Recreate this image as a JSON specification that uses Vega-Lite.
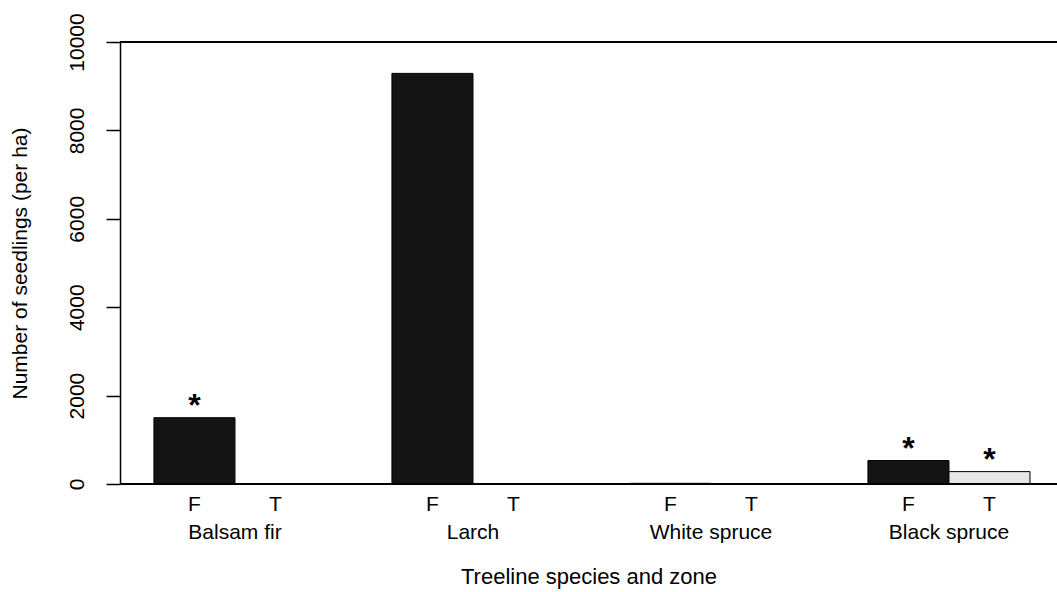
{
  "$schema": "https://vega.github.io/schema/vega-lite/v6.json",
  "width": 937,
  "height": 442,
  "autosize": {"type": "none"},
  "padding": {"left": 120, "top": 42, "right": 0, "bottom": 108},
  "background": "white",
  "config": {
    "view": {"stroke": null},
    "font": "Liberation Sans",
    "axis": {"labelFont": "Liberation Sans", "titleFont": "Liberation Sans", "labelColor": "black", "titleColor": "black", "grid": false}
  },
  "data": {
    "values": [
      {"species": "Balsam fir", "zone": "F", "value": 1500, "sig": "*"},
      {"species": "Balsam fir", "zone": "T", "value": 0, "sig": ""},
      {"species": "Larch", "zone": "F", "value": 9290, "sig": ""},
      {"species": "Larch", "zone": "T", "value": 0, "sig": ""},
      {"species": "White spruce", "zone": "F", "value": 15, "sig": ""},
      {"species": "White spruce", "zone": "T", "value": 10, "sig": ""},
      {"species": "Black spruce", "zone": "F", "value": 530, "sig": "*"},
      {"species": "Black spruce", "zone": "T", "value": 280, "sig": "*"}
    ]
  },
  "layer": [
    {
      "mark": {"type": "bar", "stroke": "black", "strokeWidth": 1},
      "encoding": {
        "x": {
          "field": "species", "type": "nominal", "sort": null,
          "scale": {"domain": ["Balsam fir", "Larch", "White spruce", "Black spruce"], "paddingInner": 0.319, "paddingOuter": 0.128, "align": 0.557},
          "axis": {"title": "Treeline species and zone", "domain": false, "ticks": false, "tickSize": 0, "labelAngle": 0, "labelPadding": 54, "labelBaseline": "alphabetic", "labelFontSize": 21, "titleFontSize": 22, "titleFontWeight": "normal", "titleBaseline": "alphabetic", "titlePadding": 41}
        },
        "xOffset": {"field": "zone", "type": "nominal", "scale": {"domain": ["F", "T"], "paddingInner": 0, "paddingOuter": 0}},
        "y": {
          "field": "value", "type": "quantitative",
          "scale": {"domain": [0, 10000], "nice": false},
          "axis": {"title": "Number of seedlings (per ha)", "values": [0, 2000, 4000, 6000, 8000, 10000], "format": "d", "labelAngle": -90, "labelAlign": "center", "labelBaseline": "alphabetic", "labelPadding": 23, "labelFontSize": 21, "tickSize": 14, "tickColor": "black", "tickWidth": 1.5, "domainColor": "black", "domainWidth": 1.5, "titleFontSize": 21, "titleFontWeight": "normal", "titlePadding": 36}
        },
        "color": {"field": "zone", "type": "nominal", "scale": {"domain": ["F", "T"], "range": ["#141414", "#e6e6e6"]}, "legend": null}
      }
    },
    {
      "mark": {"type": "text", "fontSize": 32, "fontWeight": "bold", "baseline": "alphabetic", "dy": -2, "color": "black"},
      "encoding": {
        "x": {"field": "species", "type": "nominal"},
        "xOffset": {"field": "zone", "type": "nominal"},
        "y": {"field": "value", "type": "quantitative"},
        "text": {"field": "sig"}
      }
    },
    {
      "mark": {"type": "text", "fontSize": 21, "baseline": "alphabetic", "dy": 27, "color": "black"},
      "encoding": {
        "x": {"field": "species", "type": "nominal"},
        "xOffset": {"field": "zone", "type": "nominal"},
        "y": {"datum": 0},
        "text": {"field": "zone"}
      }
    },
    {
      "mark": {"type": "rule", "color": "black", "strokeWidth": 1.5},
      "encoding": {"y": {"datum": 0}}
    },
    {
      "mark": {"type": "rule", "color": "black", "strokeWidth": 1.5},
      "encoding": {"y": {"datum": 10000}}
    }
  ]
}
